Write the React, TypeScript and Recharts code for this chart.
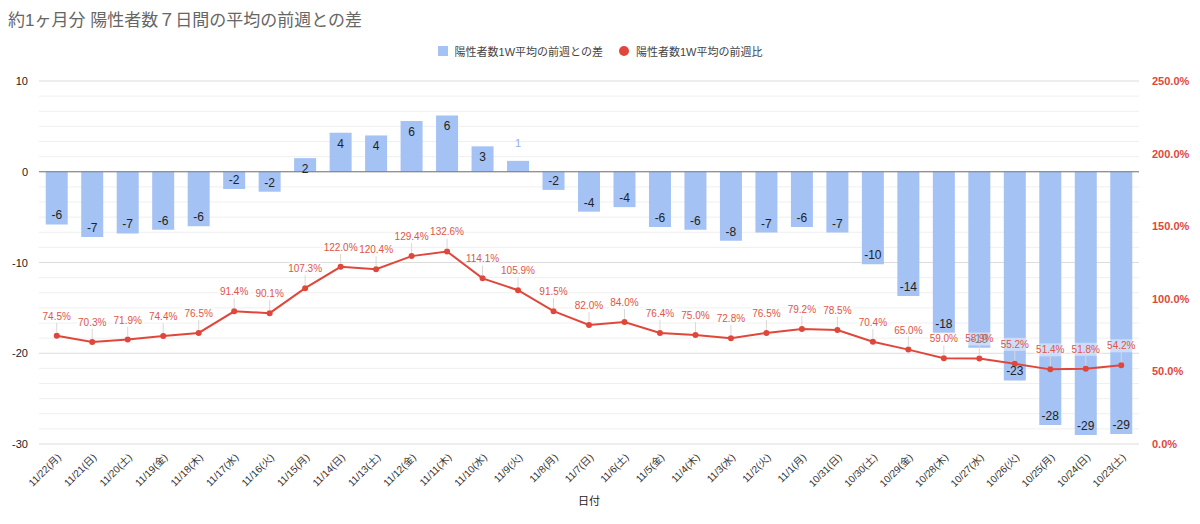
import React from "react";
import {
  ComposedChart,
  Bar,
  Line,
  XAxis,
  YAxis,
  CartesianGrid,
  ReferenceLine,
  LabelList,
  Legend,
} from "recharts";

// values
const DATES = [
  "11/22(月)", "11/21(日)", "11/20(土)", "11/19(金)", "11/18(木)", "11/17(水)",
  "11/16(火)", "11/15(月)", "11/14(日)", "11/13(土)", "11/12(金)", "11/11(木)",
  "11/10(水)", "11/9(火)", "11/8(月)", "11/7(日)", "11/6(土)", "11/5(金)",
  "11/4(木)", "11/3(水)", "11/2(火)", "11/1(月)", "10/31(日)", "10/30(土)",
  "10/29(金)", "10/28(木)", "10/27(水)", "10/26(火)", "10/25(月)", "10/24(日)",
  "10/23(土)",
];

const WEEK_DIFF = [
  -5.8, -7.2, -6.8, -6.4, -6.0, -1.9, -2.2, 1.5, 4.3, 4.0, 5.6, 6.2, 2.8, 1.2,
  -2.0, -4.4, -3.9, -6.1, -6.4, -7.6, -6.7, -6.1, -6.7, -10.2, -13.7, -17.8,
  -19.4, -23.0, -27.9, -29.0, -28.9,
];

const WEEK_RATIO = [
  74.5, 70.3, 71.9, 74.4, 76.5, 91.4, 90.1, 107.3, 122.0, 120.4, 129.4, 132.6,
  114.1, 105.9, 91.5, 82.0, 84.0, 76.4, 75.0, 72.8, 76.5, 79.2, 78.5, 70.4, 65.0,
  59.0, 58.9, 55.2, 51.4, 51.8, 54.2,
];

const LEFT_TICKS = [-30, -20, -10, 0, 10];
const RIGHT_TICKS = [0, 50, 100, 150, 200, 250];
const MINOR_PER_MAJOR = 6;

const BAR_NAME = "陽性者数1W平均の前週との差";
const LINE_NAME = "陽性者数1W平均の前週比";

const BLUE = "#a4c2f4";
const RED = "#e0473a";
const FONT = '"Liberation Sans", Arial, "Noto Sans CJK JP", sans-serif';

const data = DATES.map((date, i) => ({
  date,
  diff: WEEK_DIFF[i],
  ratio: WEEK_RATIO[i],
}));

// minor gridlines between the labelled ticks
const gridTicks: number[] = [];
for (let i = 0; i < LEFT_TICKS.length - 1; i++) {
  const step = (LEFT_TICKS[i + 1] - LEFT_TICKS[i]) / MINOR_PER_MAJOR;
  for (let j = 0; j < MINOR_PER_MAJOR; j++) gridTicks.push(LEFT_TICKS[i] + step * j);
}
gridTicks.push(LEFT_TICKS[LEFT_TICKS.length - 1]);

const LeftTick = (props: any) => {
  const { x, y, payload } = props;
  const v = Math.round(payload.value * 1000) / 1000;
  if (!LEFT_TICKS.includes(v)) return null;
  return (
    <text x={x} y={y + 4} textAnchor="end" fontSize={11} fill="#222" fontFamily={FONT}>
      {v}
    </text>
  );
};

// major lines a bit darker than the minor ones, all behind the bars
const GridLine = (props: any) => {
  const { x1, x2, y1, y2, index } = props;
  const major = index % MINOR_PER_MAJOR === 0;
  return <line x1={x1} x2={x2} y1={y1} y2={y2} stroke={major ? "#dcdcdc" : "#efefef"} strokeWidth={1} />;
};

const DateTick = (props: any) => {
  const { x, y, payload } = props;
  return (
    <text
      x={x + 5}
      y={y + 6}
      textAnchor="end"
      fontSize={10}
      fill="#333"
      fontFamily={FONT}
      transform={`rotate(-45, ${x + 5}, ${y + 6})`}
    >
      {payload.value}
    </text>
  );
};

const BarLabel = (props: any) => {
  const { x, y, width, height, value } = props;
  const top = Math.min(y, y + height);
  const bottom = Math.max(y, y + height);
  const cx = x + width / 2;
  const text = String(Math.round(value));
  if (Math.abs(bottom - top) < 12) {
    return (
      <text x={cx} y={top - 14} textAnchor="middle" fontSize={11} fill="#8fb0ea" fontFamily={FONT}>
        {text}
      </text>
    );
  }
  const ty = value < 0 ? bottom - 5 : top + 15;
  return (
    <text x={cx} y={ty} textAnchor="middle" fontSize={12} fill="#222" fontFamily={FONT}>
      {text}
    </text>
  );
};

const LineLabel = (props: any) => {
  const { x, y, value } = props;
  return (
    <g>
      <line x1={x} y1={y - 13} x2={x} y2={y - 3} stroke="#d8d8d8" strokeWidth={1} />
      <rect x={x - 16} y={y - 26} width={32} height={13} fill="#fff" fillOpacity={0.45} />
      <text x={x} y={y - 16} textAnchor="middle" fontSize={10} fill="#e05545" fontFamily={FONT}>
        {`${Number(value).toFixed(1)}%`}
      </text>
    </g>
  );
};

const LegendContent = () => (
  <div
    style={{
      display: "flex",
      justifyContent: "center",
      alignItems: "center",
      fontSize: 11,
      color: "#444",
      fontFamily: FONT,
    }}
  >
    <span style={{ display: "inline-block", width: 10, height: 10, background: BLUE, marginRight: 7 }} />
    <span style={{ marginRight: 16 }}>{BAR_NAME}</span>
    <span
      style={{ display: "inline-block", width: 10, height: 10, borderRadius: 5, background: RED, marginRight: 7 }}
    />
    <span>{LINE_NAME}</span>
  </div>
);

export default function App() {
  return (
    <div
      style={{
        position: "absolute",
        left: 0,
        top: 0,
        width: 1200,
        height: 524,
        background: "#fff",
        fontFamily: FONT,
      }}
    >
      <div style={{ position: "absolute", left: 8, top: 6, fontSize: 17, color: "#666" }}>
        約1ヶ月分 陽性者数７日間の平均の前週との差
      </div>
      <ComposedChart
        width={1200}
        height={524}
        data={data}
        margin={{ top: 81, right: 0, bottom: 0, left: 0 }}
        barCategoryGap="19%"
      >
        <CartesianGrid yAxisId="left" vertical={false} horizontal={<GridLine />} />
        <XAxis
          dataKey="date"
          interval={0}
          tick={<DateTick />}
          tickLine={false}
          axisLine={false}
          height={80}
          label={{ value: "日付", position: "insideBottom", offset: 19, fontSize: 11, fill: "#222" }}
        />
        <YAxis
          yAxisId="left"
          domain={[-30, 10]}
          ticks={gridTicks}
          interval={0}
          tick={<LeftTick />}
          tickLine={false}
          axisLine={false}
          width={39}
          tickMargin={5}
        />
        <YAxis
          yAxisId="right"
          orientation="right"
          domain={[0, 250]}
          ticks={RIGHT_TICKS}
          tickFormatter={(v: number) => `${v.toFixed(1)}%`}
          tick={{ fontSize: 11, fill: RED, fontWeight: "bold" }}
          tickLine={false}
          axisLine={false}
          width={61}
          tickMargin={7}
        />
        <Legend
          verticalAlign="middle"
          align="center"
          layout="horizontal"
          content={<LegendContent />}
          wrapperStyle={{ top: 43, left: 0, width: 1200 }}
        />
        <Bar yAxisId="left" dataKey="diff" name={BAR_NAME} fill={BLUE} isAnimationActive={false}>
          <LabelList dataKey="diff" content={<BarLabel />} />
        </Bar>
        <ReferenceLine yAxisId="left" y={0} stroke="#777" strokeWidth={1} />
        <Line
          yAxisId="right"
          dataKey="ratio"
          name={LINE_NAME}
          stroke={RED}
          strokeWidth={2}
          dot={{ r: 2, fill: RED, stroke: RED }}
          isAnimationActive={false}
        >
          <LabelList dataKey="ratio" content={<LineLabel />} />
        </Line>
      </ComposedChart>
    </div>
  );
}
